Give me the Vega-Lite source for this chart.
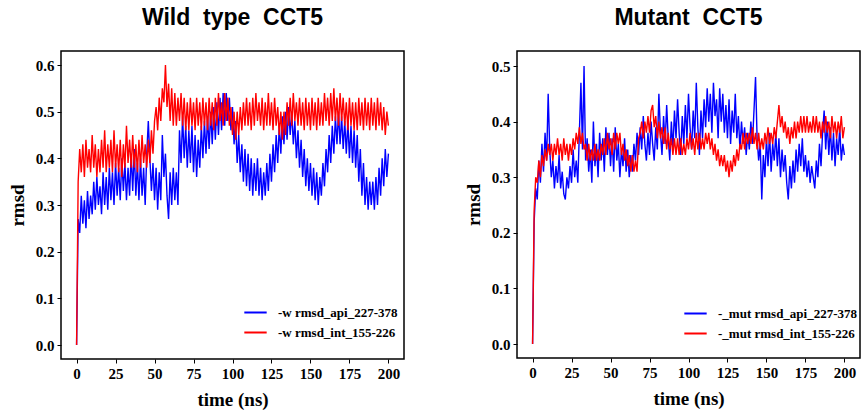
{
  "$schema": "https://vega.github.io/schema/vega-lite/v6.json",
  "background": "white",
  "padding": {"left": 7, "top": 6, "right": 0, "bottom": 0},
  "spacing": 58,
  "datasets": {
    "wt": [
      {"t":0,"api":0.00,"int":0.00},{"t":1,"api":0.27,"int":0.35},{"t":2,"api":0.24,"int":0.42},{"t":3,"api":0.32,"int":0.37},{"t":4,"api":0.26,"int":0.43},
      {"t":5,"api":0.31,"int":0.36},{"t":6,"api":0.25,"int":0.44},{"t":7,"api":0.33,"int":0.38},{"t":8,"api":0.27,"int":0.42},{"t":9,"api":0.32,"int":0.37},
      {"t":10,"api":0.28,"int":0.45},{"t":11,"api":0.35,"int":0.38},{"t":12,"api":0.29,"int":0.43},{"t":13,"api":0.36,"int":0.36},{"t":14,"api":0.30,"int":0.42},
      {"t":15,"api":0.34,"int":0.37},{"t":16,"api":0.28,"int":0.44},{"t":17,"api":0.37,"int":0.38},{"t":18,"api":0.30,"int":0.46},{"t":19,"api":0.36,"int":0.37},
      {"t":20,"api":0.29,"int":0.43},{"t":21,"api":0.38,"int":0.38},{"t":22,"api":0.31,"int":0.44},{"t":23,"api":0.37,"int":0.37},{"t":24,"api":0.30,"int":0.46},
      {"t":25,"api":0.39,"int":0.38},{"t":26,"api":0.32,"int":0.43},{"t":27,"api":0.38,"int":0.37},{"t":28,"api":0.31,"int":0.44},{"t":29,"api":0.40,"int":0.36},
      {"t":30,"api":0.33,"int":0.43},{"t":31,"api":0.39,"int":0.38},{"t":32,"api":0.31,"int":0.47},{"t":33,"api":0.38,"int":0.39},{"t":34,"api":0.32,"int":0.44},
      {"t":35,"api":0.41,"int":0.38},{"t":36,"api":0.33,"int":0.45},{"t":37,"api":0.42,"int":0.38},{"t":38,"api":0.32,"int":0.43},{"t":39,"api":0.39,"int":0.37},
      {"t":40,"api":0.31,"int":0.44},{"t":41,"api":0.40,"int":0.38},{"t":42,"api":0.32,"int":0.45},{"t":43,"api":0.38,"int":0.39},{"t":44,"api":0.30,"int":0.43},
      {"t":45,"api":0.41,"int":0.38},{"t":46,"api":0.48,"int":0.44},{"t":47,"api":0.40,"int":0.39},{"t":48,"api":0.33,"int":0.46},{"t":49,"api":0.39,"int":0.41},
      {"t":50,"api":0.31,"int":0.48},{"t":51,"api":0.38,"int":0.51},{"t":52,"api":0.29,"int":0.46},{"t":53,"api":0.37,"int":0.53},{"t":54,"api":0.31,"int":0.48},
      {"t":55,"api":0.45,"int":0.55},{"t":56,"api":0.36,"int":0.52},{"t":57,"api":0.41,"int":0.60},{"t":58,"api":0.32,"int":0.51},{"t":59,"api":0.27,"int":0.56},
      {"t":60,"api":0.37,"int":0.48},{"t":61,"api":0.30,"int":0.55},{"t":62,"api":0.38,"int":0.47},{"t":63,"api":0.31,"int":0.54},{"t":64,"api":0.37,"int":0.47},
      {"t":65,"api":0.30,"int":0.53},{"t":66,"api":0.46,"int":0.48},{"t":67,"api":0.39,"int":0.54},{"t":68,"api":0.49,"int":0.47},{"t":69,"api":0.40,"int":0.53},
      {"t":70,"api":0.47,"int":0.46},{"t":71,"api":0.38,"int":0.52},{"t":72,"api":0.46,"int":0.46},{"t":73,"api":0.39,"int":0.53},{"t":74,"api":0.47,"int":0.47},
      {"t":75,"api":0.37,"int":0.52},{"t":76,"api":0.45,"int":0.46},{"t":77,"api":0.36,"int":0.53},{"t":78,"api":0.44,"int":0.47},{"t":79,"api":0.38,"int":0.52},
      {"t":80,"api":0.47,"int":0.46},{"t":81,"api":0.40,"int":0.53},{"t":82,"api":0.48,"int":0.47},{"t":83,"api":0.41,"int":0.52},{"t":84,"api":0.49,"int":0.46},
      {"t":85,"api":0.42,"int":0.53},{"t":86,"api":0.50,"int":0.47},{"t":87,"api":0.43,"int":0.52},{"t":88,"api":0.51,"int":0.46},{"t":89,"api":0.44,"int":0.53},
      {"t":90,"api":0.52,"int":0.47},{"t":91,"api":0.45,"int":0.54},{"t":92,"api":0.53,"int":0.48},{"t":93,"api":0.46,"int":0.52},{"t":94,"api":0.54,"int":0.47},
      {"t":95,"api":0.47,"int":0.54},{"t":96,"api":0.54,"int":0.48},{"t":97,"api":0.48,"int":0.53},{"t":98,"api":0.53,"int":0.47},{"t":99,"api":0.46,"int":0.51},
      {"t":100,"api":0.51,"int":0.45},{"t":101,"api":0.43,"int":0.50},{"t":102,"api":0.48,"int":0.44},{"t":103,"api":0.39,"int":0.50},{"t":104,"api":0.45,"int":0.45},
      {"t":105,"api":0.37,"int":0.51},{"t":106,"api":0.43,"int":0.46},{"t":107,"api":0.35,"int":0.52},{"t":108,"api":0.42,"int":0.47},{"t":109,"api":0.34,"int":0.53},
      {"t":110,"api":0.41,"int":0.47},{"t":111,"api":0.33,"int":0.52},{"t":112,"api":0.40,"int":0.46},{"t":113,"api":0.32,"int":0.53},{"t":114,"api":0.39,"int":0.47},
      {"t":115,"api":0.33,"int":0.54},{"t":116,"api":0.40,"int":0.48},{"t":117,"api":0.32,"int":0.52},{"t":118,"api":0.38,"int":0.47},{"t":119,"api":0.31,"int":0.53},
      {"t":120,"api":0.37,"int":0.46},{"t":121,"api":0.32,"int":0.52},{"t":122,"api":0.39,"int":0.47},{"t":123,"api":0.33,"int":0.54},{"t":124,"api":0.41,"int":0.47},
      {"t":125,"api":0.35,"int":0.52},{"t":126,"api":0.43,"int":0.46},{"t":127,"api":0.37,"int":0.53},{"t":128,"api":0.45,"int":0.47},{"t":129,"api":0.39,"int":0.51},
      {"t":130,"api":0.47,"int":0.45},{"t":131,"api":0.41,"int":0.50},{"t":132,"api":0.49,"int":0.44},{"t":133,"api":0.43,"int":0.50},{"t":134,"api":0.50,"int":0.45},
      {"t":135,"api":0.44,"int":0.52},{"t":136,"api":0.51,"int":0.47},{"t":137,"api":0.45,"int":0.53},{"t":138,"api":0.50,"int":0.47},{"t":139,"api":0.43,"int":0.54},
      {"t":140,"api":0.48,"int":0.48},{"t":141,"api":0.40,"int":0.52},{"t":142,"api":0.46,"int":0.47},{"t":143,"api":0.38,"int":0.53},{"t":144,"api":0.44,"int":0.47},
      {"t":145,"api":0.36,"int":0.52},{"t":146,"api":0.42,"int":0.46},{"t":147,"api":0.34,"int":0.53},{"t":148,"api":0.40,"int":0.47},{"t":149,"api":0.33,"int":0.52},
      {"t":150,"api":0.39,"int":0.46},{"t":151,"api":0.32,"int":0.53},{"t":152,"api":0.38,"int":0.47},{"t":153,"api":0.31,"int":0.52},{"t":154,"api":0.37,"int":0.46},
      {"t":155,"api":0.30,"int":0.53},{"t":156,"api":0.36,"int":0.47},{"t":157,"api":0.32,"int":0.52},{"t":158,"api":0.39,"int":0.47},{"t":159,"api":0.34,"int":0.54},
      {"t":160,"api":0.42,"int":0.48},{"t":161,"api":0.37,"int":0.53},{"t":162,"api":0.45,"int":0.47},{"t":163,"api":0.39,"int":0.54},{"t":164,"api":0.47,"int":0.48},
      {"t":165,"api":0.41,"int":0.55},{"t":166,"api":0.49,"int":0.48},{"t":167,"api":0.43,"int":0.53},{"t":168,"api":0.50,"int":0.47},{"t":169,"api":0.43,"int":0.54},
      {"t":170,"api":0.49,"int":0.48},{"t":171,"api":0.42,"int":0.53},{"t":172,"api":0.48,"int":0.47},{"t":173,"api":0.41,"int":0.52},{"t":174,"api":0.48,"int":0.46},
      {"t":175,"api":0.40,"int":0.53},{"t":176,"api":0.47,"int":0.47},{"t":177,"api":0.39,"int":0.52},{"t":178,"api":0.46,"int":0.46},{"t":179,"api":0.38,"int":0.52},
      {"t":180,"api":0.45,"int":0.46},{"t":181,"api":0.35,"int":0.53},{"t":182,"api":0.42,"int":0.47},{"t":183,"api":0.32,"int":0.52},{"t":184,"api":0.39,"int":0.46},
      {"t":185,"api":0.30,"int":0.53},{"t":186,"api":0.36,"int":0.47},{"t":187,"api":0.29,"int":0.52},{"t":188,"api":0.35,"int":0.46},{"t":189,"api":0.30,"int":0.53},
      {"t":190,"api":0.35,"int":0.47},{"t":191,"api":0.29,"int":0.52},{"t":192,"api":0.36,"int":0.46},{"t":193,"api":0.30,"int":0.53},{"t":194,"api":0.38,"int":0.47},
      {"t":195,"api":0.32,"int":0.52},{"t":196,"api":0.40,"int":0.46},{"t":197,"api":0.34,"int":0.51},{"t":198,"api":0.42,"int":0.45},{"t":199,"api":0.36,"int":0.50},
      {"t":200,"api":0.41,"int":0.47}
    ],
    "mut": [
      {"t":0,"api":0.00,"int":0.00},{"t":1,"api":0.22,"int":0.24},{"t":2,"api":0.28,"int":0.30},{"t":3,"api":0.26,"int":0.29},{"t":4,"api":0.33,"int":0.33},
      {"t":5,"api":0.29,"int":0.30},{"t":6,"api":0.36,"int":0.34},{"t":7,"api":0.31,"int":0.32},{"t":8,"api":0.38,"int":0.35},{"t":9,"api":0.33,"int":0.33},
      {"t":10,"api":0.45,"int":0.36},{"t":11,"api":0.35,"int":0.34},{"t":12,"api":0.30,"int":0.36},{"t":13,"api":0.33,"int":0.33},{"t":14,"api":0.28,"int":0.36},
      {"t":15,"api":0.32,"int":0.34},{"t":16,"api":0.29,"int":0.37},{"t":17,"api":0.34,"int":0.34},{"t":18,"api":0.28,"int":0.36},{"t":19,"api":0.31,"int":0.33},
      {"t":20,"api":0.27,"int":0.37},{"t":21,"api":0.26,"int":0.34},{"t":22,"api":0.30,"int":0.36},{"t":23,"api":0.28,"int":0.33},{"t":24,"api":0.32,"int":0.36},
      {"t":25,"api":0.29,"int":0.34},{"t":26,"api":0.35,"int":0.37},{"t":27,"api":0.30,"int":0.35},{"t":28,"api":0.33,"int":0.38},{"t":29,"api":0.29,"int":0.36},
      {"t":30,"api":0.38,"int":0.39},{"t":31,"api":0.47,"int":0.36},{"t":32,"api":0.35,"int":0.38},{"t":33,"api":0.50,"int":0.35},{"t":34,"api":0.33,"int":0.36},
      {"t":35,"api":0.37,"int":0.33},{"t":36,"api":0.31,"int":0.36},{"t":37,"api":0.35,"int":0.33},{"t":38,"api":0.29,"int":0.35},{"t":39,"api":0.40,"int":0.33},
      {"t":40,"api":0.32,"int":0.36},{"t":41,"api":0.36,"int":0.33},{"t":42,"api":0.30,"int":0.35},{"t":43,"api":0.38,"int":0.33},{"t":44,"api":0.33,"int":0.36},
      {"t":45,"api":0.37,"int":0.34},{"t":46,"api":0.31,"int":0.37},{"t":47,"api":0.39,"int":0.34},{"t":48,"api":0.34,"int":0.38},{"t":49,"api":0.38,"int":0.35},
      {"t":50,"api":0.32,"int":0.37},{"t":51,"api":0.37,"int":0.34},{"t":52,"api":0.31,"int":0.38},{"t":53,"api":0.39,"int":0.35},{"t":54,"api":0.33,"int":0.38},
      {"t":55,"api":0.36,"int":0.36},{"t":56,"api":0.30,"int":0.38},{"t":57,"api":0.35,"int":0.34},{"t":58,"api":0.32,"int":0.36},{"t":59,"api":0.37,"int":0.33},
      {"t":60,"api":0.31,"int":0.35},{"t":61,"api":0.35,"int":0.32},{"t":62,"api":0.30,"int":0.34},{"t":63,"api":0.34,"int":0.31},{"t":64,"api":0.31,"int":0.34},
      {"t":65,"api":0.36,"int":0.31},{"t":66,"api":0.33,"int":0.33},{"t":67,"api":0.38,"int":0.31},{"t":68,"api":0.34,"int":0.37},{"t":69,"api":0.39,"int":0.38},
      {"t":70,"api":0.35,"int":0.40},{"t":71,"api":0.41,"int":0.37},{"t":72,"api":0.36,"int":0.40},{"t":73,"api":0.33,"int":0.38},{"t":74,"api":0.38,"int":0.41},
      {"t":75,"api":0.34,"int":0.38},{"t":76,"api":0.40,"int":0.42},{"t":77,"api":0.36,"int":0.43},{"t":78,"api":0.33,"int":0.39},{"t":79,"api":0.39,"int":0.41},
      {"t":80,"api":0.35,"int":0.37},{"t":81,"api":0.45,"int":0.40},{"t":82,"api":0.38,"int":0.37},{"t":83,"api":0.34,"int":0.39},{"t":84,"api":0.41,"int":0.36},
      {"t":85,"api":0.36,"int":0.39},{"t":86,"api":0.43,"int":0.35},{"t":87,"api":0.37,"int":0.38},{"t":88,"api":0.33,"int":0.35},{"t":89,"api":0.40,"int":0.37},
      {"t":90,"api":0.35,"int":0.34},{"t":91,"api":0.42,"int":0.37},{"t":92,"api":0.37,"int":0.34},{"t":93,"api":0.44,"int":0.37},{"t":94,"api":0.38,"int":0.34},
      {"t":95,"api":0.34,"int":0.37},{"t":96,"api":0.41,"int":0.34},{"t":97,"api":0.36,"int":0.36},{"t":98,"api":0.43,"int":0.34},{"t":99,"api":0.37,"int":0.37},
      {"t":100,"api":0.45,"int":0.35},{"t":101,"api":0.39,"int":0.38},{"t":102,"api":0.35,"int":0.35},{"t":103,"api":0.42,"int":0.37},{"t":104,"api":0.37,"int":0.34},
      {"t":105,"api":0.47,"int":0.38},{"t":106,"api":0.39,"int":0.35},{"t":107,"api":0.34,"int":0.38},{"t":108,"api":0.42,"int":0.35},{"t":109,"api":0.37,"int":0.37},
      {"t":110,"api":0.44,"int":0.35},{"t":111,"api":0.39,"int":0.38},{"t":112,"api":0.46,"int":0.36},{"t":113,"api":0.40,"int":0.38},{"t":114,"api":0.45,"int":0.35},
      {"t":115,"api":0.38,"int":0.37},{"t":116,"api":0.47,"int":0.34},{"t":117,"api":0.41,"int":0.36},{"t":118,"api":0.44,"int":0.33},{"t":119,"api":0.37,"int":0.35},
      {"t":120,"api":0.46,"int":0.32},{"t":121,"api":0.40,"int":0.34},{"t":122,"api":0.45,"int":0.32},{"t":123,"api":0.38,"int":0.34},{"t":124,"api":0.43,"int":0.31},
      {"t":125,"api":0.37,"int":0.33},{"t":126,"api":0.44,"int":0.30},{"t":127,"api":0.36,"int":0.33},{"t":128,"api":0.42,"int":0.31},{"t":129,"api":0.38,"int":0.34},
      {"t":130,"api":0.45,"int":0.32},{"t":131,"api":0.37,"int":0.35},{"t":132,"api":0.41,"int":0.33},{"t":133,"api":0.35,"int":0.36},{"t":134,"api":0.40,"int":0.35},
      {"t":135,"api":0.36,"int":0.38},{"t":136,"api":0.39,"int":0.35},{"t":137,"api":0.34,"int":0.38},{"t":138,"api":0.38,"int":0.36},{"t":139,"api":0.35,"int":0.38},
      {"t":140,"api":0.40,"int":0.36},{"t":141,"api":0.36,"int":0.39},{"t":142,"api":0.42,"int":0.36},{"t":143,"api":0.48,"int":0.38},{"t":144,"api":0.37,"int":0.35},
      {"t":145,"api":0.33,"int":0.38},{"t":146,"api":0.36,"int":0.35},{"t":147,"api":0.26,"int":0.37},{"t":148,"api":0.34,"int":0.35},{"t":149,"api":0.30,"int":0.38},
      {"t":150,"api":0.37,"int":0.36},{"t":151,"api":0.32,"int":0.39},{"t":152,"api":0.38,"int":0.36},{"t":153,"api":0.31,"int":0.38},{"t":154,"api":0.36,"int":0.36},
      {"t":155,"api":0.33,"int":0.39},{"t":156,"api":0.38,"int":0.37},{"t":157,"api":0.32,"int":0.40},{"t":158,"api":0.37,"int":0.43},{"t":159,"api":0.30,"int":0.39},
      {"t":160,"api":0.35,"int":0.41},{"t":161,"api":0.31,"int":0.38},{"t":162,"api":0.34,"int":0.40},{"t":163,"api":0.29,"int":0.37},{"t":164,"api":0.26,"int":0.39},
      {"t":165,"api":0.32,"int":0.36},{"t":166,"api":0.28,"int":0.39},{"t":167,"api":0.33,"int":0.37},{"t":168,"api":0.29,"int":0.40},{"t":169,"api":0.35,"int":0.37},
      {"t":170,"api":0.31,"int":0.40},{"t":171,"api":0.36,"int":0.38},{"t":172,"api":0.32,"int":0.41},{"t":173,"api":0.37,"int":0.38},{"t":174,"api":0.31,"int":0.41},
      {"t":175,"api":0.34,"int":0.38},{"t":176,"api":0.30,"int":0.41},{"t":177,"api":0.33,"int":0.38},{"t":178,"api":0.29,"int":0.40},{"t":179,"api":0.32,"int":0.38},
      {"t":180,"api":0.30,"int":0.41},{"t":181,"api":0.28,"int":0.38},{"t":182,"api":0.33,"int":0.41},{"t":183,"api":0.30,"int":0.38},{"t":184,"api":0.36,"int":0.40},
      {"t":185,"api":0.32,"int":0.37},{"t":186,"api":0.38,"int":0.40},{"t":187,"api":0.42,"int":0.38},{"t":188,"api":0.35,"int":0.41},{"t":189,"api":0.40,"int":0.38},
      {"t":190,"api":0.34,"int":0.40},{"t":191,"api":0.39,"int":0.37},{"t":192,"api":0.33,"int":0.41},{"t":193,"api":0.38,"int":0.38},{"t":194,"api":0.32,"int":0.40},
      {"t":195,"api":0.37,"int":0.37},{"t":196,"api":0.34,"int":0.40},{"t":197,"api":0.39,"int":0.38},{"t":198,"api":0.33,"int":0.41},{"t":199,"api":0.36,"int":0.37},
      {"t":200,"api":0.34,"int":0.39}
    ]
  },
  "hconcat": [
    {
      "width": 343,
      "height": 308,
      "title": {"text": "Wild\u00a0\u00a0type\u00a0\u00a0CCT5"},
      "data": {"name": "wt"},
      "transform": [{"fold": ["api", "int"], "as": ["series", "v"]}],
      "mark": {"type": "line", "strokeWidth": 1.4, "clip": true},
      "encoding": {
        "x": {"field": "t", "type": "quantitative", "scale": {"domain": [-10, 210], "nice": false, "zero": false},
              "axis": {"values": [0,25,50,75,100,125,150,175,200], "title": "time (ns)"}},
        "y": {"field": "v", "type": "quantitative", "scale": {"domain": [-0.03, 0.63], "nice": false, "zero": false},
              "axis": {"values": [0,0.1,0.2,0.3,0.4,0.5,0.6], "format": ".1f", "title": "rmsd"}},
        "color": {"field": "series", "type": "nominal",
                  "scale": {"domain": ["api", "int"], "range": ["#0000ff", "#ff0000"]},
                  "legend": {"orient": "none", "legendX": 182, "legendY": 249, "title": null,
                             "labelExpr": "datum.label == 'api' ? '-w rmsd_api_227-378' : '-w rmsd_int_155-226'"}}
      }
    },
    {
      "width": 343,
      "height": 307,
      "title": {"text": "Mutant\u00a0\u00a0CCT5"},
      "data": {"name": "mut"},
      "transform": [{"fold": ["api", "int"], "as": ["series", "v"]}],
      "mark": {"type": "line", "strokeWidth": 1.4, "clip": true},
      "encoding": {
        "x": {"field": "t", "type": "quantitative", "scale": {"domain": [-10, 210], "nice": false, "zero": false},
              "axis": {"values": [0,25,50,75,100,125,150,175,200], "title": "time (ns)"}},
        "y": {"field": "v", "type": "quantitative", "scale": {"domain": [-0.025, 0.527], "nice": false, "zero": false},
              "axis": {"values": [0,0.1,0.2,0.3,0.4,0.5], "format": ".1f", "title": "rmsd"}},
        "color": {"field": "series", "type": "nominal",
                  "scale": {"domain": ["api", "int"], "range": ["#0000ff", "#ff0000"]},
                  "legend": {"orient": "none", "legendX": 166, "legendY": 250, "title": null,
                             "labelExpr": "datum.label == 'api' ? '-_mut rmsd_api_227-378' : '-_mut rmsd_int_155-226'"}}
      }
    }
  ],
  "resolve": {"scale": {"color": "independent", "y": "independent"}, "legend": {"color": "independent"}},
  "config": {
    "view": {"stroke": "#000000", "strokeWidth": 1.5},
    "title": {"font": "Liberation Sans", "fontWeight": "bold", "fontSize": 23, "color": "#000000", "anchor": "middle", "offset": 21},
    "axis": {
      "grid": false,
      "domain": false,
      "labelFont": "Liberation Serif",
      "labelFontWeight": "bold",
      "labelFontSize": 15,
      "labelColor": "#000000",
      "labelPadding": 3,
      "tickColor": "#000000",
      "tickSize": 4,
      "tickWidth": 1,
      "titleFont": "Liberation Serif",
      "titleFontWeight": "bold",
      "titleFontSize": 19,
      "titleColor": "#000000"
    },
    "axisY": {"titlePadding": 8},
    "axisX": {"titlePadding": 9},
    "legend": {
      "labelFont": "Liberation Serif",
      "labelFontWeight": "bold",
      "labelFontSize": 13,
      "labelColor": "#000000",
      "symbolType": "stroke",
      "symbolSize": 500,
      "symbolStrokeWidth": 2,
      "rowPadding": 0,
      "labelOffset": 10
    }
  }
}
